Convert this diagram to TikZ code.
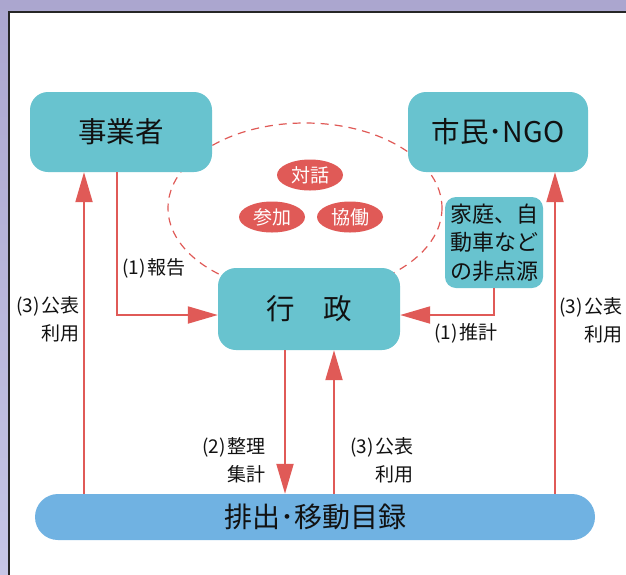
\documentclass[tikz,border=0pt]{standalone}
\usepackage{fontspec}
\setmainfont{Noto Sans CJK JP}
\usetikzlibrary{arrows.meta,shapes.geometric}
\definecolor{bgpurple}{HTML}{ABA6CF}
\definecolor{bglight}{HTML}{C6C6E6}
\definecolor{teal}{HTML}{68C3CF}
\definecolor{barblue}{HTML}{70B2E2}
\definecolor{redc}{HTML}{E05A57}
\definecolor{ink}{HTML}{111111}
\tikzset{
  tealbox/.style={fill=teal, rounded corners=18pt, inner sep=0pt, text=ink, font=\fontsize{28.5}{32}\selectfont},
  redoval/.style={ellipse, fill=redc, minimum width=66pt, minimum height=31pt, inner sep=0pt, text=white, font=\fontsize{19}{22}\selectfont},
  arr/.style={draw=redc, line width=2pt, -{Triangle[length=30pt,width=17pt]}},
  lbl/.style={text=ink, inner sep=0pt, font=\fontsize{19}{28}\selectfont},
}
\newcommand{\pn}[1]{(#1)\hspace{2pt}}
\begin{document}
\begin{tikzpicture}[x=1pt,y=-1pt]
\useasboundingbox (0,0) rectangle (626,574);
\shade[top color=bgpurple, bottom color=bglight] (0,0) rectangle (626,574);
\fill[white] (9,12) rectangle (630,580);
\draw[line width=1.5pt, black!85] (9,580) -- (9,12) -- (630,12);
% dashed ellipse
\draw[redc, line width=1.2pt, dash pattern=on 8pt off 6pt] (305,208) ellipse [x radius=137, y radius=85];
% boxes
\node[tealbox, minimum width=182pt, minimum height=80pt] (jig) at (121,132) {事業者};
\node[tealbox, minimum width=180pt, minimum height=80pt] (shimin) at (498,132) {市民･NGO};
\node[tealbox, minimum width=182pt, minimum height=82pt] (gyosei) at (309,309) {行　政};
\node[tealbox, rounded corners=11pt, minimum width=98pt, minimum height=91pt, align=center, font=\fontsize{22}{28.5}\selectfont] (hiten) at (494,242.5) {家庭、自\\動車など\\の非点源};
\node[fill=barblue, rounded corners=23pt, minimum width=560pt, minimum height=46pt, inner sep=0pt, text=ink, font=\fontsize{28}{32}\selectfont] (bar) at (315,517) {排出･移動目録};
% red ovals
\node[redoval] (taiwa) at (310,175) {対話};
\node[redoval] (sanka) at (272,217) {参加};
\node[redoval] (kyodo) at (350,217) {協働};
% helper coordinates
\coordinate (xl) at (84,0);
\coordinate (xh) at (117,0);
\coordinate (xr) at (555,0);
\coordinate (xd) at (285,0);
\coordinate (xu) at (334,0);
\coordinate (ym) at (0,315);
% connectors
\draw[arr] (bar.north -| xl) -- (jig.south -| xl);
\draw[arr] (bar.north -| xr) -- (shimin.south -| xr);
\draw[arr] (jig.south -| xh) |- (gyosei.west |- ym);
\draw[arr] (hiten.south) |- (gyosei.east |- ym);
\draw[arr] (gyosei.south -| xd) -- (bar.north -| xd);
\draw[arr] (bar.north -| xu) -- (gyosei.south -| xu);
% labels
\node[lbl, anchor=west] (l1) at (122,268) {\pn{1}報告};
\node[lbl, anchor=west] (l2) at (434,333) {\pn{1}推計};
\node[lbl, anchor=east, align=right] (l3) at (80,319) {\pn{3}公表\\利用};
\node[lbl, anchor=east, align=right] (l4) at (623,320) {\pn{3}公表\\利用};
\node[lbl, anchor=east, align=right] (l5) at (266,460) {\pn{2}整理\\集計};
\node[lbl, anchor=east, align=right] (l6) at (414,460) {\pn{3}公表\\利用};
\end{tikzpicture}
\end{document}
